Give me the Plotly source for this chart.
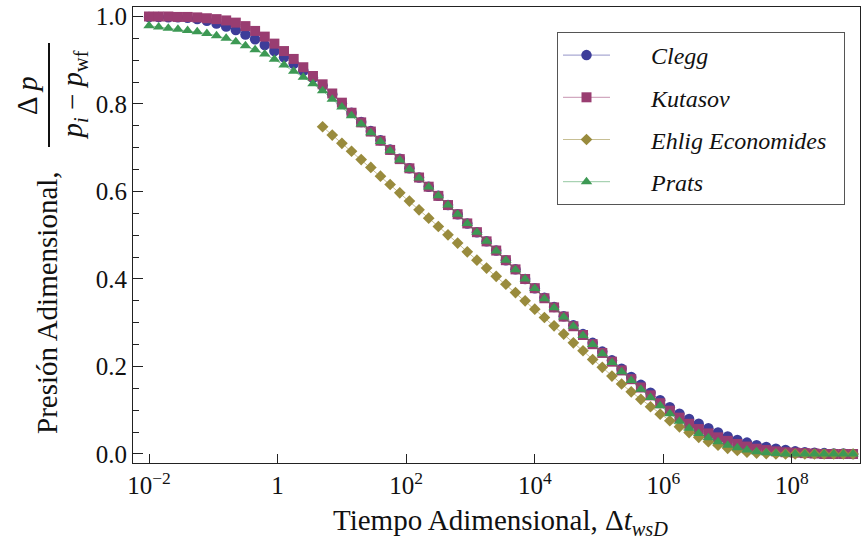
import plotly.graph_objects as go

# ---- data ----
exps = [-2.0, -1.85, -1.7, -1.55, -1.4, -1.25, -1.1, -0.95, -0.8, -0.65,
        -0.5, -0.35, -0.2, -0.05, 0.1, 0.25, 0.4, 0.55, 0.7, 0.85,
        1.0, 1.15, 1.3, 1.45, 1.6, 1.75, 1.9, 2.05, 2.2, 2.35,
        2.5, 2.65, 2.8, 2.95, 3.1, 3.25, 3.4, 3.55, 3.7, 3.85,
        4.0, 4.15, 4.3, 4.45, 4.6, 4.75, 4.9, 5.05, 5.2, 5.35,
        5.5, 5.65, 5.8, 5.95, 6.1, 6.25, 6.4, 6.55, 6.7, 6.85,
        7.0, 7.15, 7.3, 7.45, 7.6, 7.75, 7.9, 8.05, 8.2, 8.35,
        8.5, 8.65, 8.8, 8.95]

clegg = [0.999, 0.999, 0.998, 0.998, 0.997, 0.994, 0.990, 0.984, 0.977, 0.969,
         0.959, 0.948, 0.935, 0.921, 0.907, 0.892, 0.876, 0.860, 0.842, 0.822,
         0.801, 0.780, 0.759, 0.738, 0.717, 0.696, 0.675, 0.653, 0.632, 0.611,
         0.590, 0.569, 0.548, 0.527, 0.507, 0.486, 0.465, 0.443, 0.422, 0.400,
         0.379, 0.357, 0.336, 0.315, 0.294, 0.274, 0.254, 0.234, 0.214, 0.195,
         0.176, 0.158, 0.140, 0.123, 0.107, 0.092, 0.080, 0.069, 0.059, 0.049,
         0.040, 0.032, 0.026, 0.020, 0.016, 0.012, 0.009, 0.006, 0.004, 0.003,
         0.002, 0.001, 0.001, 0.000]

kutasov = [1.000, 1.000, 1.000, 0.999, 0.999, 0.998, 0.996, 0.994, 0.991, 0.986,
           0.978, 0.967, 0.954, 0.938, 0.921, 0.903, 0.884, 0.864, 0.845, 0.824,
           0.803, 0.780, 0.758, 0.737, 0.716, 0.695, 0.674, 0.653, 0.632, 0.611,
           0.590, 0.569, 0.548, 0.527, 0.507, 0.486, 0.465, 0.443, 0.422, 0.400,
           0.379, 0.356, 0.335, 0.314, 0.292, 0.272, 0.251, 0.231, 0.211, 0.191,
           0.171, 0.152, 0.134, 0.116, 0.099, 0.083, 0.069, 0.057, 0.047, 0.038,
           0.030, 0.023, 0.017, 0.012, 0.009, 0.006, 0.004, 0.003, 0.002, 0.001,
           0.000, 0.000, 0.000, 0.000]

ehlig_exps = [0.7, 0.85, 1.0, 1.15, 1.3, 1.45, 1.6, 1.75, 1.9, 2.05,
              2.2, 2.35, 2.5, 2.65, 2.8, 2.95, 3.1, 3.25, 3.4, 3.55,
              3.7, 3.85, 4.0, 4.15, 4.3, 4.45, 4.6, 4.75, 4.9, 5.05,
              5.2, 5.35, 5.5, 5.65, 5.8, 5.95, 6.1, 6.25, 6.4, 6.55,
              6.7, 6.85, 7.0, 7.15, 7.3, 7.45, 7.6, 7.75, 7.9, 8.05,
              8.2, 8.35, 8.5, 8.65, 8.8, 8.95]

ehlig = [0.748, 0.729, 0.710, 0.692, 0.673, 0.655, 0.635, 0.616, 0.597, 0.578,
         0.558, 0.539, 0.520, 0.501, 0.482, 0.462, 0.443, 0.425, 0.406, 0.388,
         0.369, 0.350, 0.331, 0.312, 0.293, 0.274, 0.254, 0.236, 0.216, 0.198,
         0.178, 0.160, 0.142, 0.125, 0.108, 0.091, 0.076, 0.062, 0.049, 0.038,
         0.028, 0.020, 0.013, 0.008, 0.004, 0.002, 0.001, 0.000, 0.000, 0.000,
         0.000, 0.000, 0.000, 0.000, 0.000, 0.000]

prats = [0.979, 0.976, 0.973, 0.971, 0.968, 0.965, 0.961, 0.956, 0.950, 0.942,
         0.933, 0.924, 0.914, 0.902, 0.889, 0.875, 0.861, 0.846, 0.830, 0.811,
         0.793, 0.773, 0.754, 0.734, 0.714, 0.693, 0.672, 0.651, 0.631, 0.610,
         0.590, 0.569, 0.548, 0.527, 0.507, 0.486, 0.464, 0.443, 0.421, 0.400,
         0.378, 0.355, 0.334, 0.313, 0.292, 0.271, 0.250, 0.229, 0.209, 0.188,
         0.168, 0.148, 0.129, 0.110, 0.092, 0.075, 0.059, 0.047, 0.037, 0.028,
         0.020, 0.014, 0.009, 0.005, 0.003, 0.001, 0.000, 0.000, 0.000, 0.000,
         0.000, 0.000, 0.000, 0.000]

x_tick_vals = [1e-2, 1e0, 1e2, 1e4, 1e6, 1e8]
x_tick_text = ["10<sup>−2</sup>", "1", "10<sup>2</sup>", "10<sup>4</sup>",
               "10<sup>6</sup>", "10<sup>8</sup>"]
x_minor_vals = [1e-1, 1e1, 1e3, 1e5, 1e7, 1e9]
y_tick_vals = [0.0, 0.2, 0.4, 0.6, 0.8, 1.0]
y_tick_text = ["0.0", "0.2", "0.4", "0.6", "0.8", "1.0"]

x_main = [10 ** e for e in exps]
x_ehlig = [10 ** e for e in ehlig_exps]

SERIF = "Liberation Serif, Times New Roman, Times, serif"
PAD = "\u00a0" * 6
PAD_R = "<span style='color:rgba(0,0,0,0)'>..</span>"

series = [
    ("Clegg", x_main, clegg, "#3D3D99", "rgba(61,61,153,0.55)", "circle", 10.5),
    ("Kutasov", x_main, kutasov, "#993D71", "rgba(153,61,113,0.55)", "square", 10),
    ("Ehlig Economides", x_ehlig, ehlig, "#998B3D", "rgba(153,139,61,0.55)", "diamond", 9),
    ("Prats", x_main, prats, "#3D9954", "rgba(61,153,84,0.55)", "triangle-up", 10),
]

fig = go.Figure()
for i, (name, xs, ys, col, lcol, sym, sz) in enumerate(series):
    fig.add_trace(go.Scatter(
        x=xs, y=ys, name=PAD + "<i>" + name + "</i>" + PAD_R, mode="lines+markers",
        line=dict(color=lcol, width=1),
        marker=dict(symbol=sym, size=sz, color=col, line=dict(width=0)),
        legendgroup="g%d" % i,
    ))

W, H = 861, 544
L, R, T, B = 133, 1, 7, 81
pw, ph = W - L - R, H - T - B

def px(xp):
    return (xp - L) / pw

def py(yp):
    return (H - B - yp) / ph

XR = [-2.249, 9.058]

fig.update_layout(
    width=W, height=H,
    margin=dict(l=L, r=R, t=T, b=B),
    paper_bgcolor="white", plot_bgcolor="white",
    font=dict(family=SERIF, color="#111", size=25),
    legend=dict(
        x=px(557), y=py(32), xanchor="left", yanchor="top",
        bgcolor="white", bordercolor="#555", borderwidth=1,
        font=dict(family=SERIF, size=24, color="#111"),
        traceorder="grouped", tracegroupgap=8, itemwidth=47,
    ),
    xaxis=dict(
        type="log", range=XR,
        tickvals=x_tick_vals, ticktext=x_tick_text,
        ticks="inside", ticklen=9, tickcolor="#222", tickwidth=1,
        showline=True, linecolor="#222", linewidth=1, mirror=True,
        showgrid=False, zeroline=False,
        tickfont=dict(family=SERIF, size=25, color="#111"),
    ),
    xaxis2=dict(
        type="log", range=XR, overlaying="x", anchor="y", side="bottom",
        tickvals=x_minor_vals, showticklabels=False,
        ticks="inside", ticklen=9, tickcolor="#222", tickwidth=1,
        showline=False, showgrid=False, zeroline=False,
    ),
    yaxis=dict(
        range=[-0.0206, 1.0217],
        tickvals=y_tick_vals, ticktext=y_tick_text,
        ticks="inside", ticklen=10, tickcolor="#222", tickwidth=1,
        minor=dict(ticks="inside", ticklen=6, dtick=0.05, tick0=0,
                   tickcolor="#222", showgrid=False),
        showline=True, linecolor="#222", linewidth=1, mirror=True,
        showgrid=False, zeroline=False,
        tickfont=dict(family=SERIF, size=25, color="#111"),
    ),
)

ann_font = dict(family=SERIF, size=29, color="#111")
fig.add_annotation(text="Tiempo Adimensional, Δ<i>t</i><sub><i>wsD</i></sub>",
                   xref="paper", yref="paper", x=px(500), y=py(522),
                   xanchor="center", yanchor="middle", showarrow=False, font=ann_font)
fig.add_annotation(text="Presión Adimensional,", textangle=-90,
                   xref="paper", yref="paper", x=px(47), y=py(303),
                   xanchor="center", yanchor="middle", showarrow=False, font=ann_font)
fig.add_annotation(text="Δ <i>p</i>", textangle=-90,
                   xref="paper", yref="paper", x=px(27), y=py(96),
                   xanchor="center", yanchor="middle", showarrow=False, font=ann_font)
fig.add_annotation(text="<i>p</i><sub><i>i</i></sub> − <i>p</i><sub>wf</sub>", textangle=-90,
                   xref="paper", yref="paper", x=px(74), y=py(95.5),
                   xanchor="center", yanchor="middle", showarrow=False, font=ann_font)
fig.add_shape(type="line", xref="paper", yref="paper",
              x0=px(49), x1=px(49), y0=py(147), y1=py(43),
              line=dict(color="#111", width=2))

fig.write_html("out.html")
